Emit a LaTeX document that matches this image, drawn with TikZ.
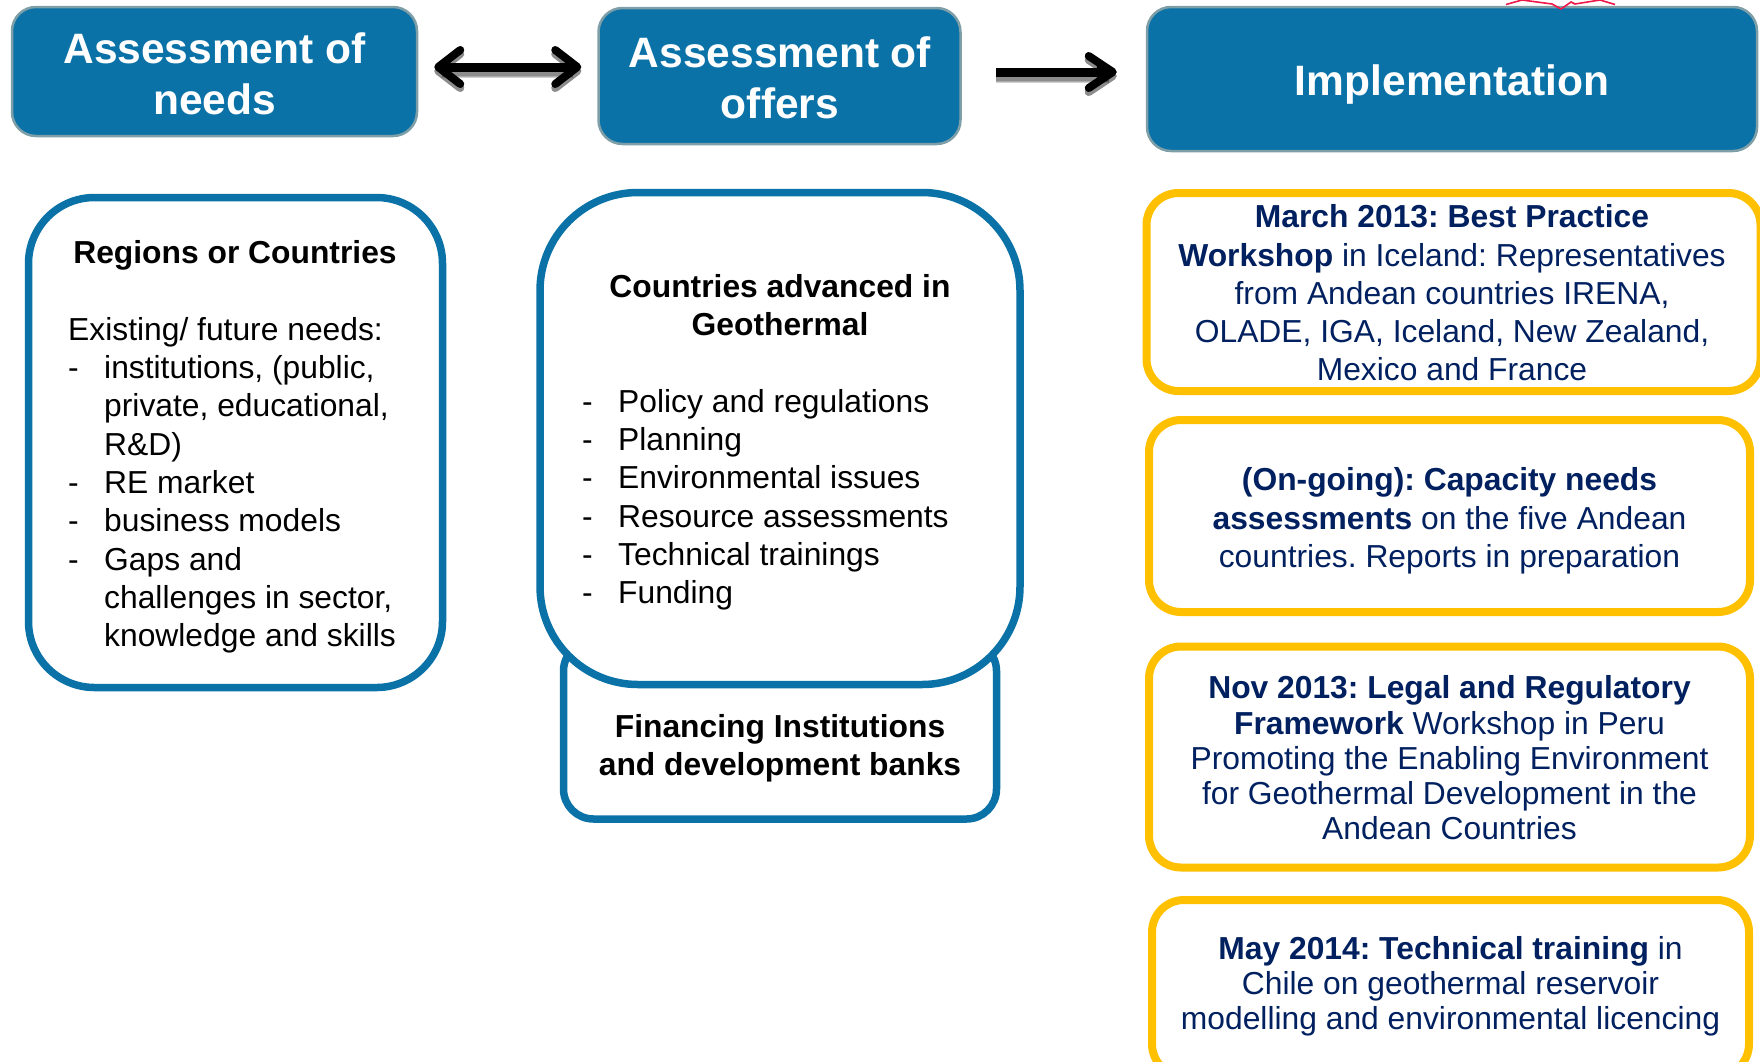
\documentclass[tikz,border=0pt]{standalone}
\usepackage{fontspec}
\setmainfont{Liberation Sans}
\usetikzlibrary{arrows.meta}
\definecolor{bluebox}{HTML}{0B72A8}
\definecolor{blueedge}{HTML}{7F9FA8}
\definecolor{gold}{HTML}{FFC000}
\definecolor{navy}{HTML}{002060}
\definecolor{redmark}{HTML}{F01848}
\newcommand{\fsz}[2]{\fontsize{#1pt}{#2pt}\selectfont}
\newcommand{\li}[1]{\makebox[36pt][l]{-}#1}
\newcommand{\lii}[1]{\hspace*{36pt}#1}
\frenchspacing
\tikzset{
 x=1pt,y=-1pt,
 head/.style={draw=blueedge,line width=2.5pt,fill=bluebox,rounded corners=24pt,inner sep=0pt},
 headtext/.style={text=white,font=\fsz{42.5}{51}\bfseries,align=center,inner sep=0pt},
 bluebx/.style={draw=bluebox,line width=7.5pt,fill=white,inner sep=0pt},
 goldbx/.style={draw=gold,line width=8pt,fill=white,rounded corners=32pt,inner sep=0pt},
 body/.style={inner sep=0pt,text=black,font=\fsz{31.8}{38.3}},
 gtext/.style={inner sep=0pt,text=navy,align=center},
 dbl/.style={{Straight Barb[length=22pt,width=34pt,line width=8pt,round]}-{Straight Barb[length=22pt,width=34pt,line width=8pt,round]}},
 sgl/.style={-{Straight Barb[length=24pt,width=32pt,line width=8pt,round]}},
 sglfill/.style={-{Triangle[length=20pt,width=24pt]}},
 arrowline/.style={line width=9pt,draw=black},
 arrowshadow/.style={draw=black,fill=black,opacity=.18},
}
\begin{document}
\begin{tikzpicture}
\useasboundingbox (0,0) rectangle (1760,1061);
\coordinate (lvA) at (0,67);
\coordinate (lvB) at (0,72);
\coordinate (lvAs) at (0,71);
\coordinate (lvBs) at (0,76);
% header boxes
\node[head,minimum width=405pt,minimum height=129pt] (needs) at (214.5,71.5) {};
\node[headtext] (needst) at (214.5,74) {Assessment of\\needs};
\node[head,minimum width=362pt,minimum height=136pt] (offers) at (779.5,76) {};
\node[headtext] (offerst) at (780,78) {Assessment of\\offers};
\node[head,minimum width=610pt,minimum height=144pt] (impl) at (1452,79) {};
\node[headtext] (implt) at (1452,85) {Implementation};
% red fragment
\draw[draw=redmark,line width=1.6pt] (1506,4.5) -- (1522,0) -- (1552,4) -- (1561,9) -- (1571,2) -- (1575,4) -- (1600,0) -- (1615,4.5);
% arrows
\foreach \w in {14,11,9}{
\draw[arrowshadow,line width=\w pt,dbl,shorten <=16pt,shorten >=16pt] (needs.east |- lvAs) -- (offers.west |- lvAs);
\draw[arrowshadow,line width=\w pt,sgl,shorten <=34pt,shorten >=29pt] (offers.east |- lvBs) -- (impl.west |- lvBs);
}
\draw[arrowline,dbl,shorten <=16pt,shorten >=16pt] (needs.east |- lvA) -- (offers.west |- lvA);
\draw[arrowline,sgl,shorten <=34pt,shorten >=29pt] (offers.east |- lvB) -- (impl.west |- lvB);
\draw[arrowline,sglfill,shorten <=34pt,shorten >=29pt] (offers.east |- lvB) -- (impl.west |- lvB);
% left column
\node[bluebx,rounded corners=66pt,minimum width=414pt,minimum height=490pt] (regions) at (235.5,442.5) {};
\node[body,font=\fsz{31.8}{38.3}\bfseries,anchor=base] (regionst) at (235,263) {Regions or Countries};
\node[body,align=left,anchor=north west] (regionsb) at (68,317) {Existing/ future needs:\\\li{institutions, (public,}\\\lii{private, educational,}\\\lii{R\&D)}\\\li{RE market}\\\li{business models}\\\li{Gaps and}\\\lii{challenges in sector,}\\\lii{knowledge and skills}};
% centre column
\node[bluebx,rounded corners=30pt,minimum width=433pt,minimum height=178pt] (fin) at (780,730) {};
\node[bluebx,rounded corners=98pt,minimum width=480pt,minimum height=492pt] (adv) at (780,438.5) {};
\node[body,font=\fsz{31.8}{38.3}\bfseries,align=center,anchor=north] (advt) at (780,274) {Countries advanced in\\Geothermal};
\node[body,align=left,anchor=north west] (advb) at (582,389) {\li{Policy and regulations}\\\li{Planning}\\\li{Environmental issues}\\\li{Resource assessments}\\\li{Technical trainings}\\\li{Funding}};
\node[body,font=\fsz{31.8}{38.3}\bfseries,align=center] (fint) at (780,748) {Financing Institutions\\and development banks};
% right column
\node[goldbx,minimum width=614pt,minimum height=198pt] (g1) at (1453.5,292) {};
\node[gtext,font=\fsz{31.8}{38.3}] (g1t) at (1452,293) {\textbf{March 2013: Best Practice}\\\textbf{Workshop} in Iceland: Representatives\\from Andean countries IRENA,\\OLADE, IGA, Iceland, New Zealand,\\Mexico and France};
\node[goldbx,minimum width=601pt,minimum height=192pt] (g2) at (1449.5,516) {};
\node[gtext,font=\fsz{31.8}{38.3}] (g2t) at (1449.5,521) {\textbf{(On-going): Capacity needs}\\\textbf{assessments} on the five Andean\\countries. Reports in preparation};
\node[goldbx,minimum width=601pt,minimum height=221pt] (g3) at (1449.5,757) {};
\node[gtext,font=\fsz{31.8}{35.3}] (g3t) at (1449.5,758) {\textbf{Nov 2013: Legal and Regulatory}\\\textbf{Framework} Workshop in Peru\\Promoting the Enabling Environment\\for Geothermal Development in the\\Andean Countries};
\node[goldbx,minimum width=597pt,minimum height=176pt] (g4) at (1450.5,988) {};
\node[gtext,font=\fsz{31.8}{34.8}] (g4t) at (1450.5,986) {\textbf{May 2014: Technical training} in\\Chile on geothermal reservoir\\modelling and environmental licencing};
\end{tikzpicture}
\end{document}
